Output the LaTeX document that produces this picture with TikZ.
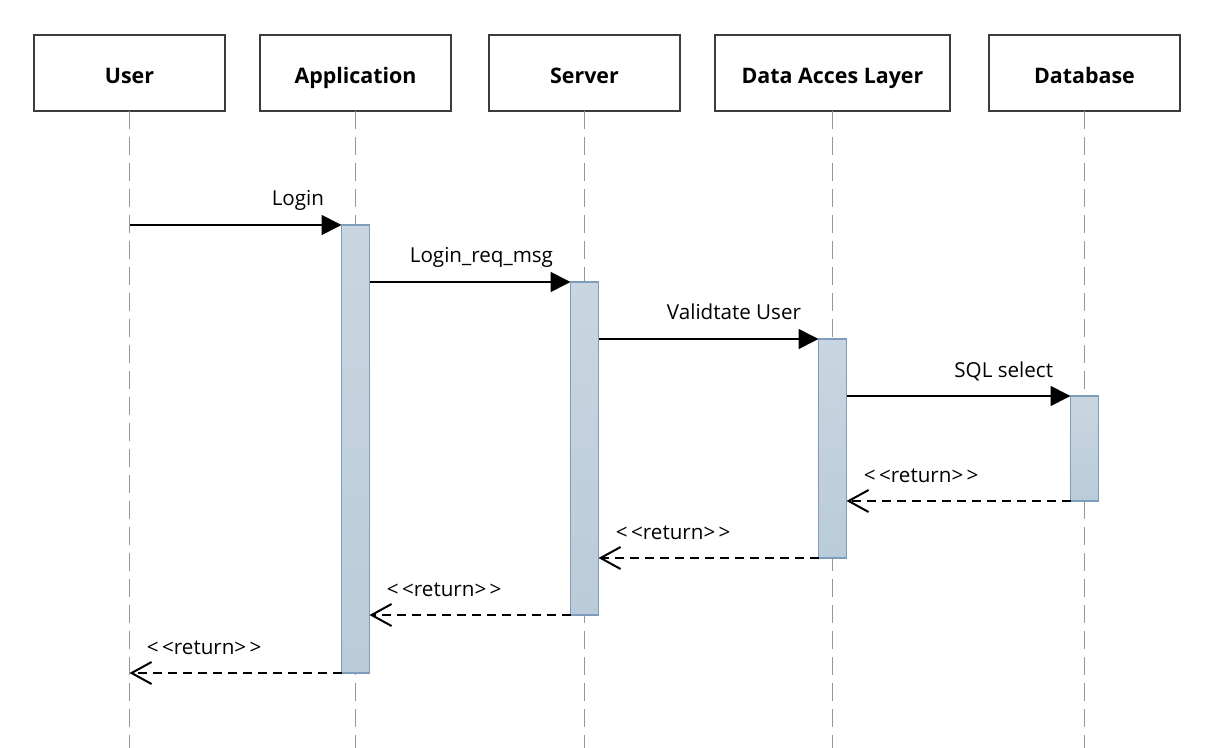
\documentclass[tikz,border=0pt]{standalone}
\usepackage{fontspec}
\setmainfont{Open Sans}
\usepackage{tikz}
\usetikzlibrary{arrows.meta, positioning}
\definecolor{boxline}{RGB}{60,60,60}
\definecolor{lifegray}{RGB}{150,150,150}
\definecolor{bartop}{RGB}{201,214,225}
\definecolor{barbottom}{RGB}{186,203,217}
\definecolor{barline}{RGB}{126,156,187}
\newcommand{\rettext}{{<}\,{<}return{>}\,{>}}
\tikzset{
  head/.style={
    draw=boxline,
    line width=0.9pt,
    minimum width=95.5pt,
    minimum height=38pt,
    outer sep=0pt,
    text height=11pt,
    text depth=0.5pt,
    font=\fontsize{10.7}{12}\selectfont\bfseries
  },
  actbar/.style={
    draw=barline,
    line width=0.7pt,
    top color=bartop,
    bottom color=barbottom,
    minimum width=14pt,
    inner sep=0pt,
    outer sep=0pt
  },
  lifeline/.style={draw=lifegray, line width=0.75pt, dash pattern=on 9pt off 4pt},
  msg/.style={line width=0.8pt, -{Triangle[length=10pt, width=10pt]}},
  ret/.style={line width=0.8pt, dash pattern=on 4.5pt off 3pt,
    -{Straight Barb[length=10pt, width=11pt, line width=1pt]}},
  msglabel/.style={pos=1, anchor=base east, xshift=-5pt, yshift=9.5pt},
  retlabel/.style={pos=1, anchor=base west, xshift=5pt, yshift=9.5pt}
}
\begin{document}
\begin{tikzpicture}[x=0.5pt, y=-0.5pt, font=\fontsize{10.3}{12}\selectfont]
\useasboundingbox (0,0) rectangle (1224,748);

% participants
\node[head, anchor=north west] (user) at (34,35) {User};
\node[head, right=17.5pt of user] (app) {Application};
\node[head, right=19pt of app] (srv) {Server};
\node[head, right=17.5pt of srv, minimum width=117.5pt] (dal) {Data Acces Layer};
\node[head, right=19.5pt of dal] (db) {Database};
\coordinate (bottom) at (0,748);

% lifelines
\foreach \n in {user,app,srv,dal,db}
  \draw[lifeline] (\n.south) -- (\n |- bottom);

% activations
\node[actbar, below=57pt of app, minimum height=224pt] (appbar) {};
\node[actbar, below=85.5pt of srv, minimum height=166.5pt] (srvbar) {};
\node[actbar, below=114pt of dal, minimum height=109.5pt] (dalbar) {};
\node[actbar, below=142.5pt of db, minimum height=52.5pt] (dbbar) {};

% calls
\draw[msg] (user |- appbar.north) -- (appbar.north west) node[msglabel] {Login};
\draw[msg] (appbar.east |- srvbar.north) -- (srvbar.north west) node[msglabel] {Login\_req\_msg};
\draw[msg] (srvbar.east |- dalbar.north) -- (dalbar.north west) node[msglabel] {Validtate User};
\draw[msg] (dalbar.east |- dbbar.north) -- (dbbar.north west) node[msglabel] {SQL select};

% returns
\draw[ret] (dbbar.south west) -- (dalbar.east |- dbbar.south) node[retlabel] {\rettext};
\draw[ret] (dalbar.south west) -- (srvbar.east |- dalbar.south) node[retlabel] {\rettext};
\draw[ret] (srvbar.south west) -- (appbar.east |- srvbar.south) node[retlabel] {\rettext};
\draw[ret] (appbar.south west) -- (user |- appbar.south) node[retlabel] {\rettext};
\end{tikzpicture}
\end{document}
